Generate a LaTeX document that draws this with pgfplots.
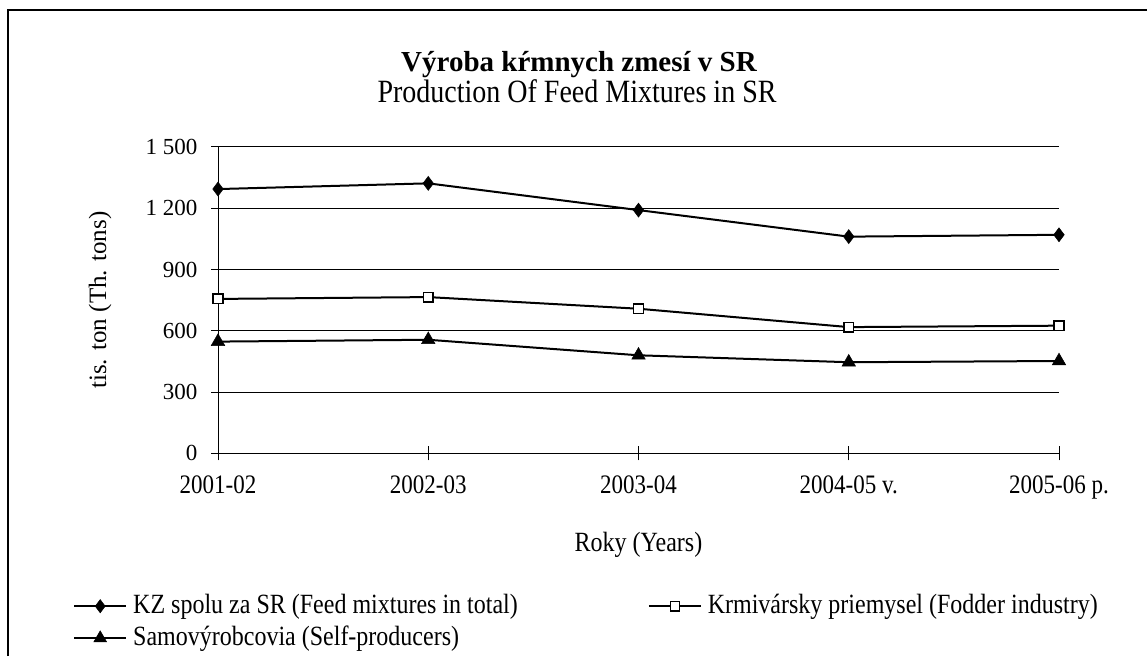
\documentclass[border=0pt]{standalone}
\usepackage{fontspec}
\setmainfont{Liberation Serif}
\usepackage{graphicx}
\usepackage{pgfplots}
\pgfplotsset{compat=1.18}
\newcommand{\vs}[1]{\scalebox{1}[1.16]{#1}}
\begin{document}
\begin{tikzpicture}[x=1pt,y=1pt]
\useasboundingbox (0,0) rectangle (1147,656);
\draw[line width=1.5pt] (8,0) -- (8,646) -- (1147,646);
\node[anchor=base,font=\fontsize{29}{33}\selectfont\bfseries] at (579,584) {Výroba kŕmnych zmesí v SR};
\node[anchor=base,font=\fontsize{28}{32}\selectfont] at (577,553) {\vs{Production Of Feed Mixtures in SR}};
\begin{axis}[
  at={(218pt,202.7pt)}, anchor=south west,
  scale only axis, width=841pt, height=306.3pt,
  xmin=0, xmax=4, ymin=0, ymax=1500,
  clip=false,
  axis x line*=bottom, axis y line*=left,
  axis line style={line width=1pt,-},
  xtick={0,1,2,3,4},
  xticklabels={\vs{2001-02},\vs{2002-03},\vs{2003-04},\vs{2004-05 v.},\vs{2005-06 p.}},
  ytick={0,300,600,900,1200,1500},
  ymajorgrids, grid style={black,line width=1pt},
  tick align=center, major tick length=14pt,
  major tick style={black,line width=1pt},
  tick label style={font=\fontsize{23}{27}\selectfont},
  /pgf/number format/assume math mode=true,
  /pgf/number format/1000 sep={\ },
  yticklabel style={xshift=-10pt},
  xticklabel style={yshift=-12pt},
  xlabel={\vs{Roky (Years)}},
  xlabel style={at={(axis description cs:0.5,-0.300)},anchor=center,font=\fontsize{24}{28}\selectfont},
  ylabel={tis. ton (Th. tons)},
  ylabel style={at={(axis description cs:-0.1403,0.5)},anchor=center,font=\fontsize{25}{29}\selectfont},
  legend columns=2,
  legend cell align=left,
  legend style={draw=none,fill=none,inner sep=0pt,
    at={(axis description cs:-0.1724,-0.4561)},anchor=north west,
    font=\fontsize{24}{28}\selectfont,
    row sep=6pt,
    nodes={inner ysep=0pt,inner xsep=6pt,text height=20pt,text depth=6pt},
    /tikz/every even column/.append style={column sep=124pt}},
  legend image code/.code={\draw[#1,mark repeat=2,mark phase=2,every mark/.append style={scale=0.95}] plot coordinates {(0pt,0pt) (26pt,0pt) (52pt,0pt)};},
]
\addplot[black,line width=2pt,mark=diamond*,mark size=7pt,mark options={solid,fill=black,line width=0.5pt}]
  coordinates {(0,1294) (1,1322) (2,1191) (3,1061) (4,1070)};
\addlegendentry{\vs{KZ spolu za SR (Feed mixtures in total)}}
\addplot[black,line width=2pt,mark=square*,mark size=4.8pt,mark options={solid,fill=white,line width=1.5pt}]
  coordinates {(0,756) (1,765) (2,708) (3,618) (4,625)};
\addlegendentry{\vs{Krmivársky priemysel (Fodder industry)}}
\addplot[black,line width=2pt,mark=triangle*,mark size=7.8pt,mark options={solid,fill=black,line width=0.5pt}]
  coordinates {(0,547) (1,556) (2,480) (3,446) (4,452)};
\addlegendentry{\vs{Samovýrobcovia (Self-producers)}}
\end{axis}
\end{tikzpicture}
\end{document}
